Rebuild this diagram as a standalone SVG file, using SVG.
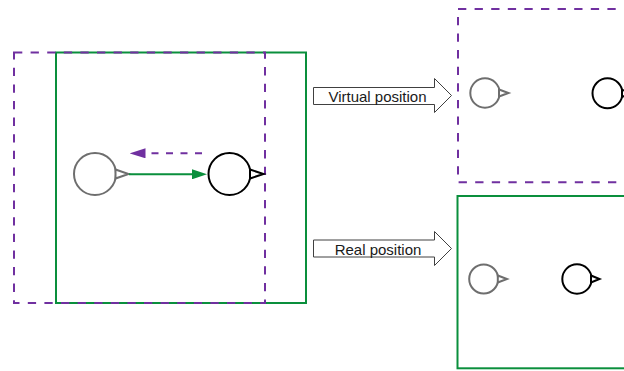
<svg xmlns="http://www.w3.org/2000/svg" width="624" height="371" viewBox="0 0 624 371">
  <style>
    .bg { fill: #ffffff; }
    .frame-real { fill: none; stroke: #0a8f3c; stroke-width: 2; }
    .frame-virtual { fill: none; stroke: #7030a0; stroke-width: 2; stroke-dasharray: 8.3 8.3; }
    .agent-ghost circle, .agent-ghost polygon { fill: #ffffff; stroke: #6e6e6e; stroke-width: 2; stroke-linejoin: miter; }
    .agent-solid circle, .agent-solid polygon { fill: #ffffff; stroke: #000000; stroke-width: 2; stroke-linejoin: miter; }
    .move-real { stroke: #0a8f3c; stroke-width: 2; fill: none; }
    .move-virtual { stroke: #7030a0; stroke-width: 2; fill: none; stroke-dasharray: 7 7.5; }
    .block-arrow { fill: #ffffff; stroke: #404040; stroke-width: 1; }
    .label { font-family: "Liberation Sans", Arial, sans-serif; font-size: 15px; fill: #1a1a1a; text-anchor: middle; }
  </style>
  <defs>
    <marker id="head-green" markerUnits="userSpaceOnUse" markerWidth="15" markerHeight="10" refX="0" refY="5" orient="auto">
      <path d="M0,0 L15,5 L0,10 z" fill="#0a8f3c"/>
    </marker>
    <marker id="head-purple" markerUnits="userSpaceOnUse" markerWidth="16" markerHeight="10" refX="0" refY="5" orient="auto">
      <path d="M0,0 L16,5 L0,10 z" fill="#7030a0"/>
    </marker>
  </defs>

  <rect class="bg" x="0" y="0" width="624" height="371"/>

  <!-- left: real frame with the shifted virtual frame over it -->
  <g id="frame-left-real">
    <rect class="frame-real" x="56" y="52.5" width="250" height="250.5"/>
  </g>
  <g id="frame-left-virtual">
    <rect class="frame-virtual" x="14" y="52.5" width="251" height="250.5"/>
  </g>

  <!-- right: the two resulting views -->
  <g id="frame-virtual-view">
    <rect class="frame-virtual" x="458" y="9" width="200" height="173.3"/>
  </g>
  <g id="frame-real-view">
    <rect class="frame-real" x="457.5" y="196" width="200" height="172.3"/>
  </g>

  <!-- agents: circle body with a pointer nose -->
  <g id="agent-start" class="agent-ghost">
    <circle cx="95" cy="174" r="21"/>
    <polygon points="115.5,169.5 128.5,174 115.5,178.5"/>
  </g>
  <g id="agent-end" class="agent-solid">
    <circle cx="229.5" cy="174" r="21"/>
    <polygon points="250,169.5 263.5,174 250,178.5"/>
  </g>
  <g id="virtual-start" class="agent-ghost">
    <circle cx="485" cy="93" r="14.7"/>
    <polygon points="499,89.5 508.5,93 499,96.5"/>
  </g>
  <g id="virtual-end" class="agent-solid">
    <circle cx="607.5" cy="93.3" r="15"/>
    <polygon points="622,89.8 631.5,93.3 622,96.8"/>
  </g>
  <g id="real-start" class="agent-ghost">
    <circle cx="483.7" cy="279" r="14.5"/>
    <polygon points="497.8,275.5 507,279 497.8,282.5"/>
  </g>
  <g id="real-end" class="agent-solid">
    <circle cx="577" cy="279" r="14.7"/>
    <polygon points="591,275.5 599.5,279 591,282.5"/>
  </g>

  <!-- connectors -->
  <g id="connectors">
    <line class="move-real" x1="129" y1="174.3" x2="192" y2="174.3" marker-end="url(#head-green)"/>
    <line class="move-virtual" x1="202" y1="153.3" x2="145.5" y2="153.3" marker-end="url(#head-purple)"/>

    <g id="arrow-virtual">
      <polygon class="block-arrow" points="313.5,87.5 434.5,87.5 434.5,78.5 451.5,95.5 434.5,112.5 434.5,104.5 313.5,104.5"/>
      <text class="label" x="377.5" y="101.5">Virtual position</text>
    </g>
    <g id="arrow-real">
      <polygon class="block-arrow" points="313.5,240 434.5,240 434.5,231.5 451.5,248.5 434.5,265.5 434.5,257 313.5,257"/>
      <text class="label" x="378" y="254.5">Real position</text>
    </g>
  </g>
</svg>
